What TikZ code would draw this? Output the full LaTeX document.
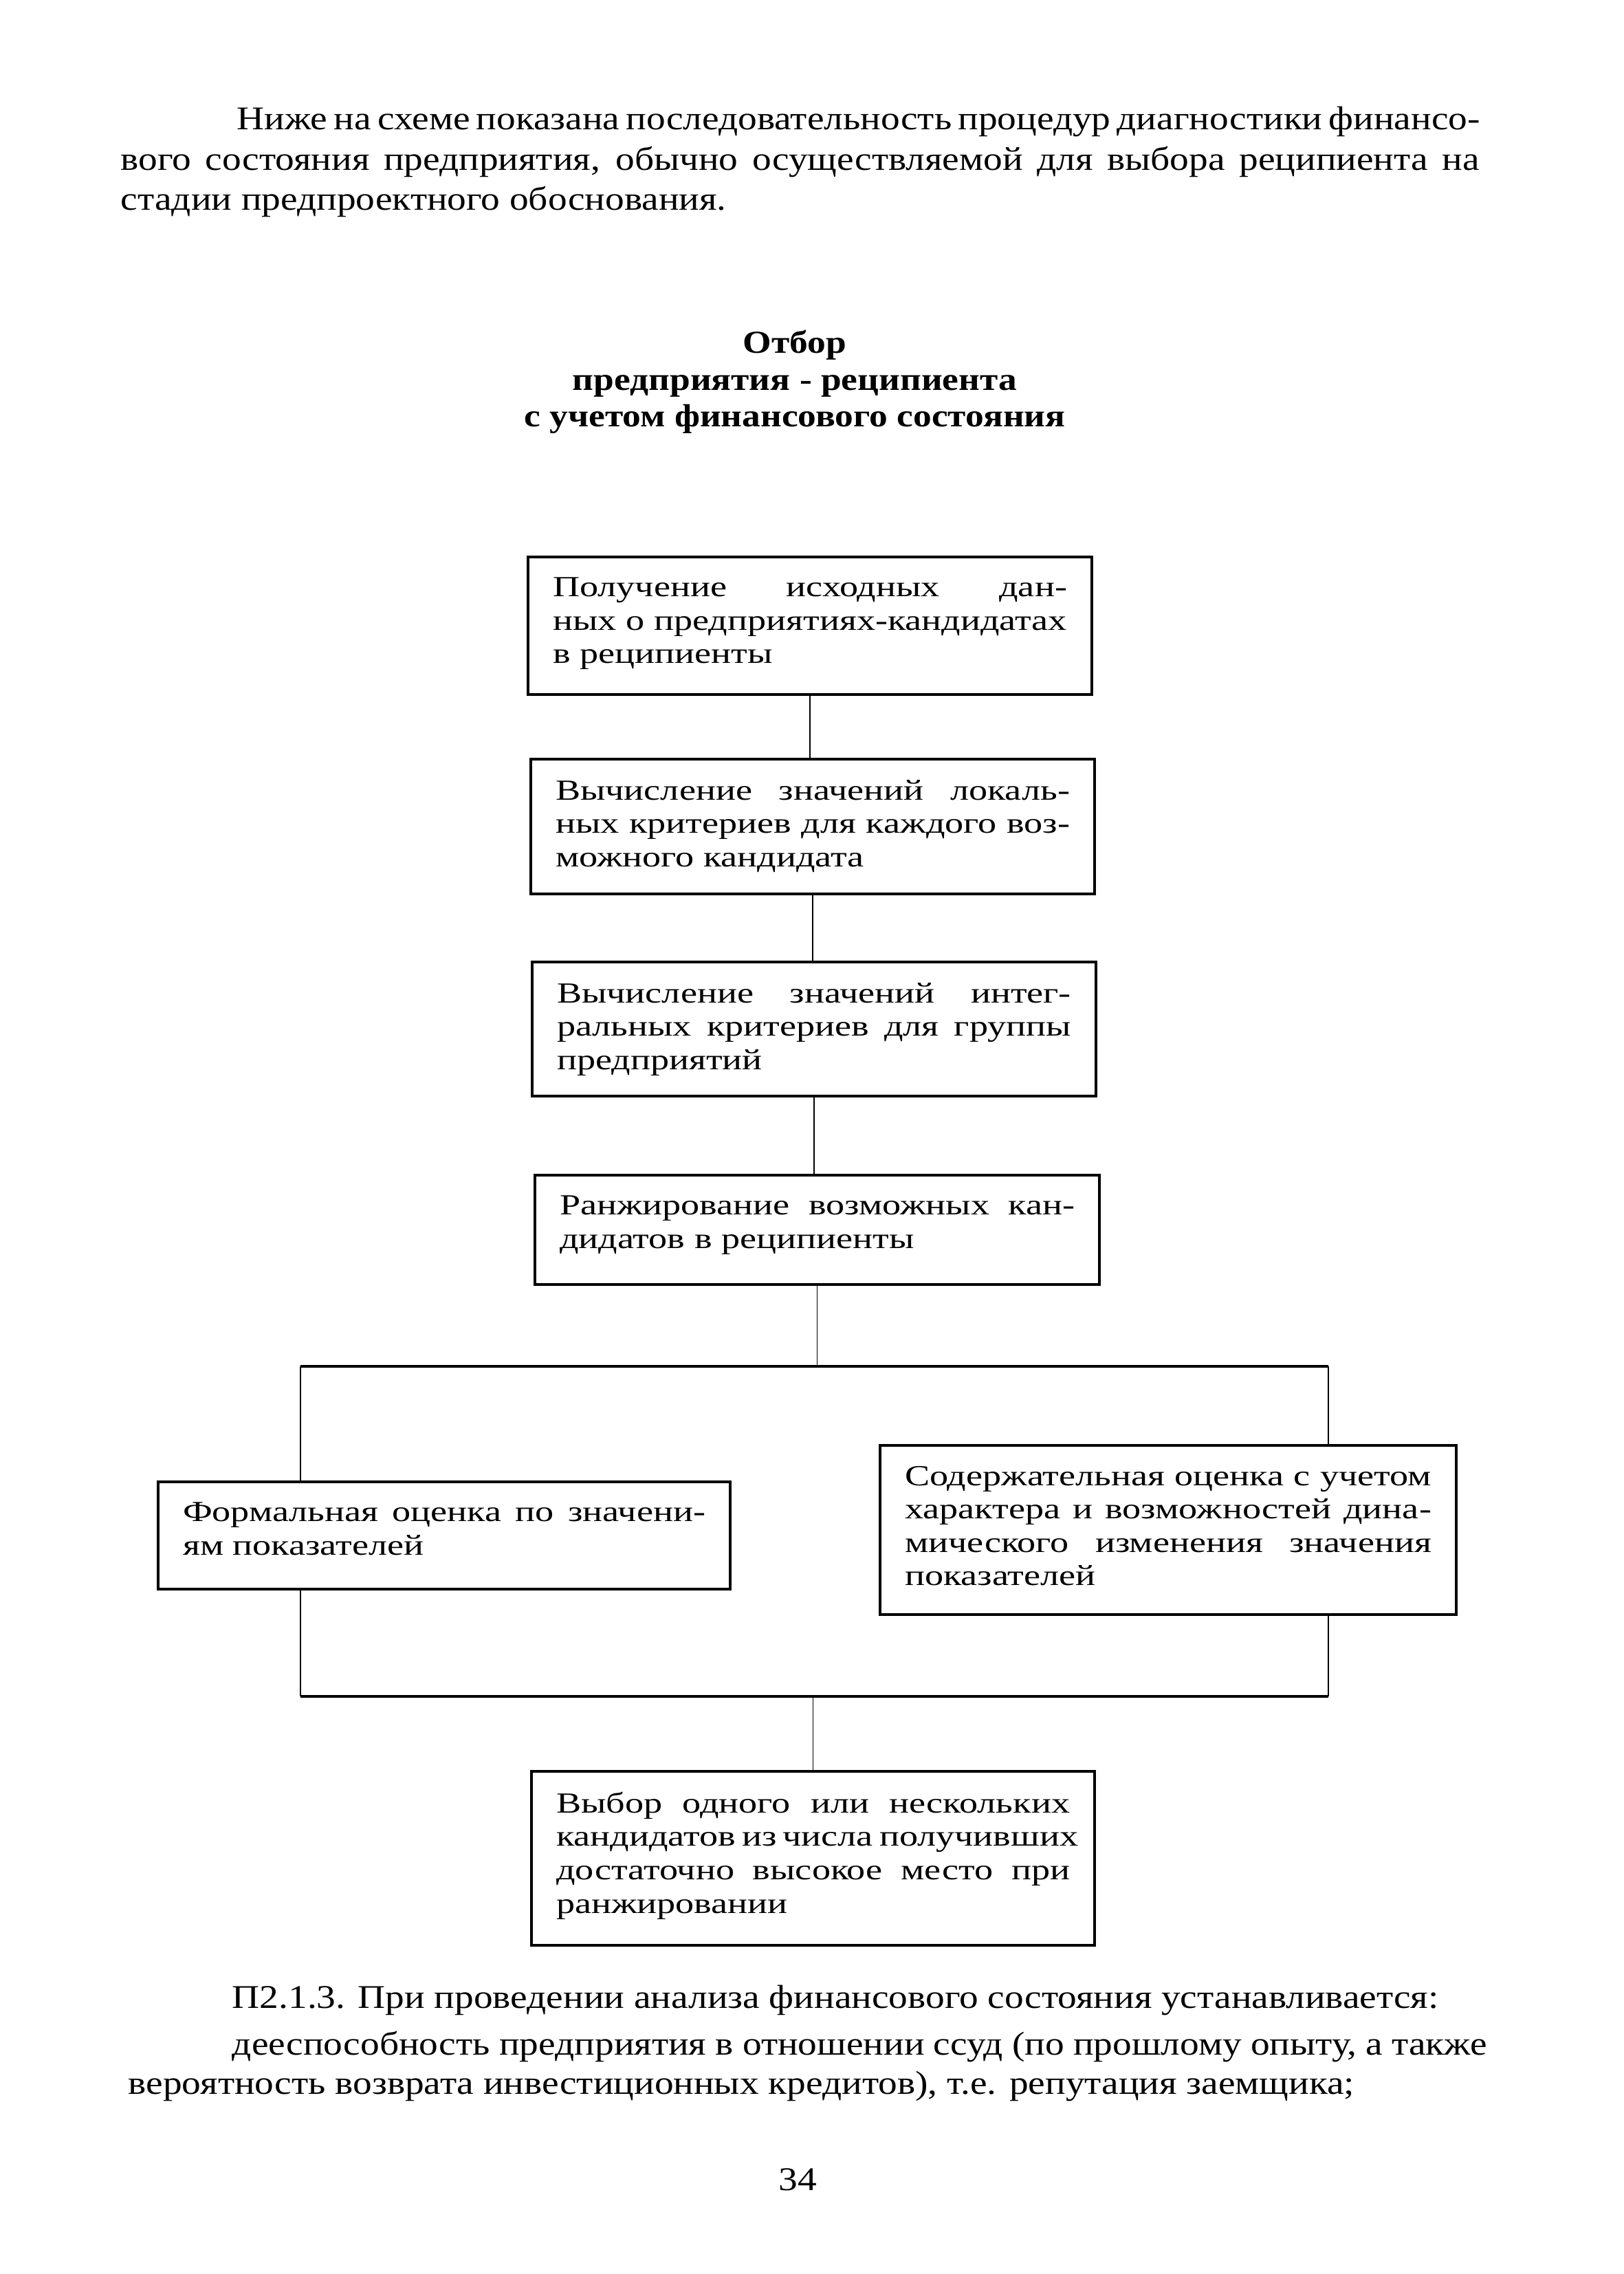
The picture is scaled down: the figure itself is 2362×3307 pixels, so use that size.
\documentclass[tikz,border=0pt]{standalone}
\usepackage{fontspec}
\setmainfont{Liberation Serif}[FakeStretch=1.28]
\newfontfamily\bodyfont{Liberation Serif}[FakeStretch=1.15]
\usepackage{tikz}

\newdimen\pxu \pxu=0.2409pt
\newcommand{\justline}[1]{\makebox[\linewidth][s]{#1}\\}
\newcommand{\bloktext}[3]{\parbox[t][#2\pxu][t]{#1\pxu}{\fontsize{10.2}{11.7}\selectfont #3}}

\tikzset{
  blok/.style={draw, line width=1pt, inner xsep=36\pxu, inner ysep=30\pxu, anchor=north west},
  svyaz/.style={line width=0.4pt},
  shina/.style={line width=1pt},
  txt/.style={inner sep=0pt, anchor=base west, font=\bodyfont\fontsize{11.6}{14}\selectfont},
  niz/.style={txt, font=\bodyfont\fontsize{11.6}{14}\selectfont},
  zag/.style={inner sep=0pt, anchor=base, font=\bodyfont\bfseries\fontsize{11.2}{13}\selectfont},
}

\begin{document}
\begin{tikzpicture}[x=0.2409pt, y=-0.2409pt]
        \fill[white] (0,0) rectangle (2362,3307);
        \useasboundingbox (0,0) rectangle (2362,3307);

        % text above the scheme
        \node[txt] (p1) at (344,188) {\makebox[1807\pxu][s]{Ниже на схеме показана последовательность процедур диагностики финансо-}};
        \node[txt] (p2) at (175,247) {\makebox[1976\pxu][s]{вого состояния предприятия, обычно осуществляемой для выбора реципиента на}};
        \node[txt] (p3) at (175,305) {стадии предпроектного обоснования.};

        \node[zag] (t1) at (1156,513) {Отбор};
        \node[zag] (t2) at (1156,567) {предприятия - реципиента};
        \node[zag] (t3) at (1156,620) {с учетом финансового состояния};

        % blocks
        \node[blok] (b1) at (766,808) {\bloktext{748}{140}{\justline{Получение исходных дан-}\justline{ных о предприятиях-кандидатах}в реципиенты}};
        \node[blok] (b2) at (770,1102) {\bloktext{748}{136}{\justline{Вычисление значений локаль-}\justline{ных критериев для каждого воз-}можного кандидата}};
        \node[blok] (b3) at (772,1397) {\bloktext{748}{135}{\justline{Вычисление значений интег-}\justline{ральных критериев для группы}предприятий}};
        \node[blok] (b4) at (776,1707) {\bloktext{749}{99}{\justline{Ранжирование возможных кан-}дидатов в реципиенты}};
        \node[blok] (b5) at (228,2153) {\bloktext{760}{96}{\justline{Формальная оценка по значени-}ям показателей}};
        \node[blok] (b6) at (1278,2100) {\bloktext{766}{186}{\justline{Содержательная оценка с учетом}\justline{характера и возможностей дина-}\justline{мического изменения значения}показателей}};
        \node[blok] (b7) at (771,2574) {\bloktext{747}{193}{\justline{Выбор одного или нескольких}\justline{кандидатов из числа получивших}\justline{достаточно высокое место при}ранжировании}};

        \coordinate (sl) at (437,1987);
        \coordinate (sr) at (1932,1987);
        \coordinate (jl) at (437,2467);
        \coordinate (jr) at (1932,2467);

        \draw[svyaz] (b1.south) -- (b1.south |- b2.north);
        \draw[svyaz] (b2.south) -- (b2.south |- b3.north);
        \draw[svyaz] (b3.south) -- (b3.south |- b4.north);
        \draw[svyaz] (b4.south) -- (b4.south |- sl);
        \draw[shina] (sl) -- (sr);
        \draw[svyaz] (sl) -- (sl |- b5.north);
        \draw[svyaz] (sr) -- (sr |- b6.north);
        \draw[svyaz] (sl |- b5.south) -- (jl);
        \draw[svyaz] (sr |- b6.south) -- (jr);
        \draw[shina] (jl) -- (jr);
        \draw[svyaz] (b7.north |- jl) -- (b7.north);

        % text below the scheme
        \node[niz] (q1) at (337,2920) {П2.1.3. При проведении анализа финансового состояния устанавливается:};
        \node[niz] (q2) at (337,2988) {\makebox[1825\pxu][s]{дееспособность предприятия в отношении ссуд (по прошлому опыту, а также}};
        \node[niz] (q3) at (186,3045) {вероятность возврата инвестиционных кредитов), т.е. репутация заемщика;};
        \node[niz, anchor=base] (pg) at (1160,3185) {34};
\end{tikzpicture}
\end{document}
